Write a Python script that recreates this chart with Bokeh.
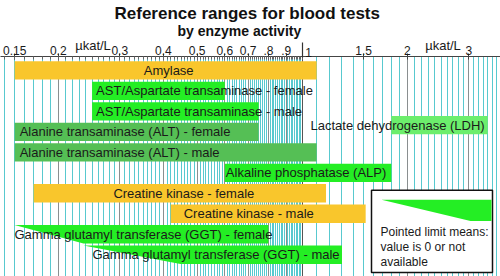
from bokeh.plotting import figure
from bokeh.models import Range1d, FixedTicker, Grid, Title, LogAxis
from bokeh.core.properties import value
from bokeh.embed import file_html
from bokeh.resources import INLINE

# ---- data: reference ranges, µkat/L (lower 0 = value is 0 or not available) ----
tests = [
    "Amylase",
    "AST/Aspartate transaminase - female",
    "AST/Aspartate transaminase - male",
    "Alanine transaminase (ALT) - female",
    "Alanine transaminase (ALT) - male",
    "Lactate dehydrogenase (LDH)",
    "Alkaline phosphatase (ALP)",
    "Creatine kinase - female",
    "Creatine kinase - male",
    "Gamma glutamyl transferase (GGT) - female",
    "Gamma glutamyl transferase (GGT) - male",
]
lower = [0.15, 0.25, 0.25, 0.15, 0.15, 1.8, 0.6, 0.17, 0.42, 0.0, 0.0]
upper = [1.1, 0.6, 0.75, 0.75, 1.1, 3.4, 1.8, 1.17, 1.52, 0.8, 1.3]
group = ["amylase", "ast", "ast", "alt", "alt", "ldh", "alp", "ck", "ck", "ggt", "ggt"]

tick_values = [0.15, 0.2, 0.3, 0.4, 0.5, 0.6, 0.7, 0.8, 0.9, 1, 1.5, 2, 3]
tick_labels = ["0.15", "0.2", "0.3", "0.4", "0.5", "0.6", "0.7", ".8", ".9", "1", "1.5", "2", "3"]
unit_label = "µkat/L"

# ---- layout ----
W, H = 500, 276
FRAME_TOP = 54
X_LO, X_HI = 0.1366, 3.70          # log axis spans the full width
ROW0_PX, ROW_PX, BAR_PX = 68.0, 20.67, 18.5

# vertical slot of each bar (LDH sits between rows)
slot = [0, 1, 2, 3, 4, 2.67, 5, 6, 7, 8, 9]
# label placement: (anchor, pixel offset)
label_pos = [("center", 3), ("left", 4), ("left", 4), ("left", 5), ("left", 5),
             ("right", -3), ("right", -5), ("center", 4), ("left", 13),
             ("left", 0), ("left", 9)]
# pointed bars: pixel x of the tip and of where full height is reached
point_px = {9: (14, 83), 10: (83, 180)}
# pixel x of the two unit captions, and of the "1" label beside the divider
unit_px = [92.5, 442.5]
one_px = 308

palette = {"amylase": "#F9C62C", "ck": "#F9C62C", "ast": "#24EE24", "alp": "#24EE24",
           "ggt": "#24EE24", "alt": "#55BF55", "ldh": "#6CEE6C"}
FONT = value("Liberation Sans")
TEXT = "#1a1a1a"


def px_to_x(px):
    return X_LO * (X_HI / X_LO) ** (px / W)


def py_to_y(py):
    return (py - ROW0_PX) / ROW_PX


p = figure(width=W, height=H, x_axis_type="log", x_axis_location="above",
           y_axis_location=None, title=None,
           x_range=Range1d(X_LO, X_HI),
           y_range=Range1d(py_to_y(H), py_to_y(FRAME_TOP)),
           min_border_top=FRAME_TOP, min_border_left=0, min_border_right=0,
           min_border_bottom=0, output_backend="svg", toolbar_location=None)
p.outline_line_color = None
p.background_fill_color = "white"
p.border_fill_color = "white"

# ---- grid: every 0.01 below 1, every 0.1 above ----
fine = [round(0.14 + 0.01 * i, 2) for i in range(86)]
coarse = [round(1.0 + 0.1 * i, 1) for i in range(1, 28)]
dark = [0.2, 0.3, 0.4, 0.5, 0.6, 0.7, 0.8, 0.9, 2, 3]

p.ygrid.visible = False
p.xgrid.ticker = FixedTicker(ticks=[t for t in fine + coarse if t not in dark and t != 1])
p.xgrid.grid_line_color = "#58C9CF"
p.xgrid.grid_line_width = 1
p.add_layout(Grid(dimension=0, ticker=FixedTicker(ticks=dark),
                  grid_line_color="#8A8F90", grid_line_width=1))
p.add_layout(Grid(dimension=0, ticker=FixedTicker(ticks=[1]),
                  grid_line_color="#555555", grid_line_width=1))

# ---- main axis (the "1" is written beside the divider instead) ----
main_ticks = [v for v in tick_values if v != 1]
ax = p.xaxis[0]
ax.ticker = FixedTicker(ticks=main_ticks, minor_ticks=[t for t in fine if t < 1] + [1])
ax.major_label_overrides = {v: s for v, s in zip(tick_values, tick_labels) if v != 1}
ax.major_label_text_font = "Liberation Sans"
ax.major_label_text_font_size = "12px"
ax.major_label_text_color = TEXT
ax.major_label_standoff = -1
ax.major_tick_out = 3
ax.major_tick_in = 3
ax.minor_tick_in = 3
ax.minor_tick_out = 0
ax.axis_line_color = "#444444"
ax.major_tick_line_color = "#444444"
ax.minor_tick_line_color = "#666666"

# ---- long divider tick at 1 (labels not painted) ----
divider = LogAxis(ticker=FixedTicker(ticks=[1], minor_ticks=[]),
                  axis_line_color=None, major_tick_out=0, major_tick_in=15,
                  major_tick_line_color="#333333", major_tick_line_width=1.2,
                  minor_tick_line_color=None, major_label_text_color=None,
                  major_label_text_font_size="12px", major_label_standoff=-14)
p.add_layout(divider, "above")

# ---- "1" label just right of the divider ----
one_x = px_to_x(one_px)
one_axis = LogAxis(ticker=FixedTicker(ticks=[one_x], minor_ticks=[]),
                   major_label_overrides={one_x: tick_labels[tick_values.index(1)]},
                   axis_line_color=None, major_tick_line_color=None,
                   minor_tick_line_color=None, major_tick_out=0, major_tick_in=0,
                   major_label_standoff=-14, major_label_text_font="Liberation Sans",
                   major_label_text_font_size="12px", major_label_text_color=TEXT)
p.add_layout(one_axis, "above")

# ---- unit captions, drawn as a label-only axis ----
unit_x = [px_to_x(u) for u in unit_px]
units = LogAxis(ticker=FixedTicker(ticks=unit_x, minor_ticks=[]),
                major_label_overrides={u: unit_label for u in unit_x},
                axis_line_color=None, major_tick_line_color=None,
                minor_tick_line_color=None, major_tick_out=0, major_tick_in=0,
                major_label_standoff=-10, major_label_text_font="Liberation Sans",
                major_label_text_font_size="13px", major_label_text_color=TEXT)
p.add_layout(units, "above")

# ---- titles ----
p.add_layout(Title(text="by enzyme activity", align="left", offset=177, standoff=-8,
                   text_font="Liberation Sans", text_font_size="14px",
                   text_font_style="bold", text_color="#111111"), "above")
p.add_layout(Title(text="Reference ranges for blood tests", align="left", offset=114,
                   standoff=3, text_font="Liberation Sans", text_font_size="17px",
                   text_font_style="bold", text_color="#111111"), "above")

# ---- bars ----
h = BAR_PX / ROW_PX
for i in range(len(tests)):
    color = palette[group[i]]
    if lower[i] > 0:
        p.hbar(y=[slot[i]], left=[lower[i]], right=[upper[i]], height=h,
               fill_color=color, line_color=None)
    else:
        tip_px, full_px = point_px[i]
        top, bot = slot[i] - h / 2, slot[i] + h / 2
        p.patch(x=[px_to_x(tip_px), upper[i], upper[i], px_to_x(full_px)],
                y=[top, top, bot, bot], fill_color=color, line_color=None)

# ---- bar labels ----
for i, name in enumerate(tests):
    anchor, off = label_pos[i]
    lo = lower[i] if lower[i] > 0 else px_to_x(point_px[i][0])
    if anchor == "center":
        x = (lo * upper[i]) ** 0.5
    elif anchor == "left":
        x = lo
    else:
        x = upper[i]
    p.text(x=[x], y=[slot[i]], text=[name], x_offset=off, text_align=anchor,
           text_baseline="middle", text_font=FONT, text_font_size="13px",
           text_color=TEXT)

# ---- legend box for pointed limits ----
p.quad(left=[px_to_x(371)], right=[px_to_x(492)], top=[py_to_y(189)],
       bottom=[py_to_y(272)], fill_color="white", line_color="#111111", line_width=1.5)
p.patch(x=[px_to_x(381), px_to_x(491), px_to_x(491), px_to_x(470)],
        y=[py_to_y(198.5), py_to_y(198.5), py_to_y(220), py_to_y(220)],
        fill_color="#24EE24", line_color=None)
for k, line in enumerate(["Pointed limit means:", "value is 0 or not", "available"]):
    p.text(x=[px_to_x(380)], y=[py_to_y(231 + 15 * k)], text=[line],
           text_align="left", text_baseline="middle", text_font=FONT,
           text_font_size="12px", text_color=TEXT)

open("out.html", "w").write(file_html(p, INLINE))
